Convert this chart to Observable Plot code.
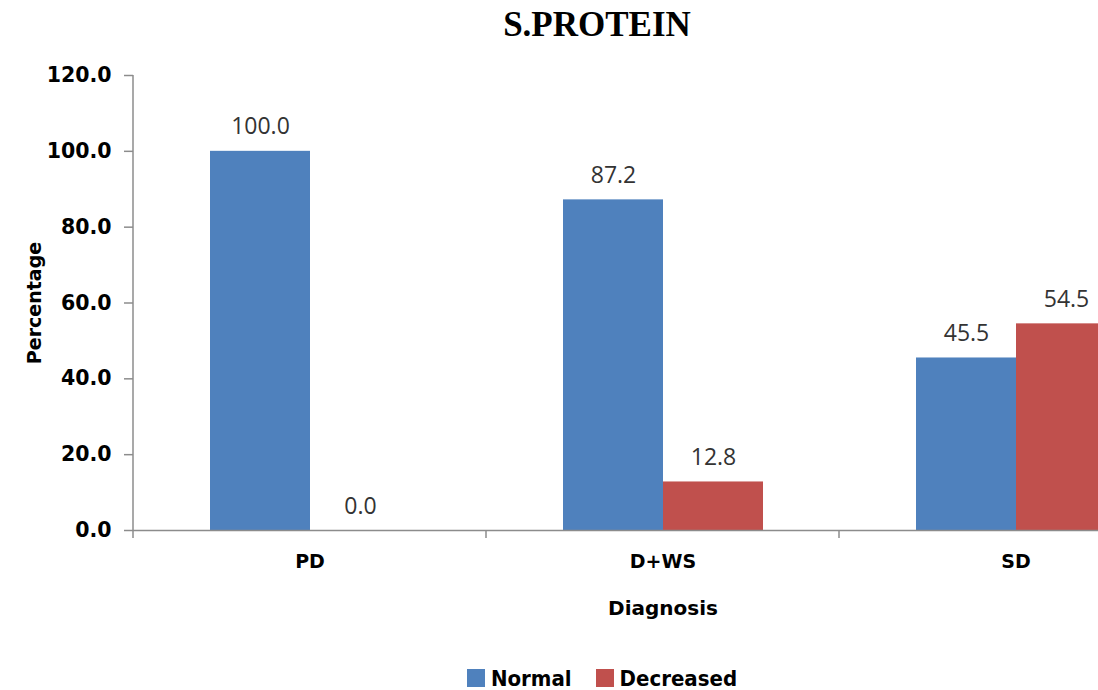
<!DOCTYPE html>
<html>
<head>
<meta charset="utf-8">
<script src="https://cdn.jsdelivr.net/npm/d3@7"></script>
<script src="https://cdn.jsdelivr.net/npm/@observablehq/plot@0.6"></script>
<style>
  html, body { margin: 0; padding: 0; background: #fff; overflow: hidden; }
  #wrap { width: 1098px; height: 690px; position: relative; }
  #title {
    height: 50px; line-height: 50px; text-align: center;
    font-family: "Liberation Serif", serif; font-weight: bold; font-size: 35px;
    color: #000; padding-left: 96px; box-sizing: border-box;
  }
  #legend {
    display: flex; justify-content: center; align-items: center;
    height: 50px; padding-top: 26px; padding-left: 106px; box-sizing: border-box;
    font-family: "DejaVu Sans Condensed", "DejaVu Sans", sans-serif; font-weight: bold; font-size: 22px;
  }
  .item { display: flex; align-items: center; margin: 0 12px; }
  .sw { width: 18px; height: 18px; margin-right: 6px; }
</style>
</head>
<body>
<div id="wrap">
  <div id="title">S.PROTEIN</div>
  <div id="chart"></div>
  <div id="legend"></div>
</div>
<script>
// Serum protein status by diagnosis (percent of patients)
const categories = ["PD", "D+WS", "SD"];
const series = ["Normal", "Decreased"];
const normal = [100.0, 87.2, 45.5];
const decreased = [0.0, 12.8, 54.5];
const yTicks = [0, 20, 40, 60, 80, 100, 120];
const colors = ["#4F81BD", "#C0504D"];

const rows = categories.flatMap((c, i) => [
  {category: c, series: "Normal", value: normal[i]},
  {category: c, series: "Decreased", value: decreased[i]}
]);

const axisFont = "DejaVu Sans, sans-serif";
const chart = Plot.plot({
  width: 1098,
  height: 590,
  marginTop: 25,
  marginBottom: 110,
  marginLeft: 133,
  marginRight: 0,
  style: {background: "transparent", overflow: "visible"},
  fx: {domain: categories, range: [133, 1192], padding: 0},
  x: {domain: series, paddingInner: 0, paddingOuter: 0.76},
  y: {domain: [0, 120]},
  color: {domain: series, range: colors},
  marks: [
    Plot.barY(rows, {fx: "category", x: "series", y: "value", fill: "series"}),
    Plot.ruleY([0], {stroke: "#8c8c8c", strokeWidth: 1.5}),
    Plot.text(rows, {
      fx: "category", x: "series", y: "value",
      text: d => d.value.toFixed(1),
      lineAnchor: "bottom", dy: -17,
      fontFamily: "Open Sans, sans-serif", fontSize: 23, fill: "#333"
    }),
    Plot.axisY({
      ticks: yTicks, tickFormat: d => d.toFixed(1),
      tickSize: 9, tickPadding: 13, stroke: "#8c8c8c", strokeWidth: 1.5,
      fontFamily: axisFont, fontWeight: "bold", fontSize: 20.5, fill: "#000",
      label: "Percentage", labelArrow: "none", labelAnchor: "center", labelOffset: 106
    }),
    Plot.axisX({ticks: [], label: null}),
    Plot.axisFx({
      anchor: "bottom",
      tickSize: 0, tickPadding: 24,
      fontFamily: axisFont, fontWeight: "bold", fontSize: 19, fill: "#000",
      label: "Diagnosis", labelArrow: "none", labelAnchor: "center", labelOffset: 84
    })
  ]
});
document.getElementById("chart").appendChild(chart);

// left axis line and category boundary ticks, placed with the plot's own scales
const fx = chart.scale("fx");
const y = chart.scale("y");
const svg = d3.select(chart);
const g = svg.append("g").attr("stroke", "#8c8c8c").attr("stroke-width", 1.5);
g.append("line")
  .attr("x1", fx.apply(categories[0])).attr("x2", fx.apply(categories[0]))
  .attr("y1", y.apply(120)).attr("y2", y.apply(0));
categories.forEach(c => {
  const xb = fx.apply(c);
  g.append("line").attr("x1", xb).attr("x2", xb)
    .attr("y1", y.apply(0)).attr("y2", y.apply(0) + 8);
});
// axis titles: bold, without direction arrows
svg.selectAll("[aria-label='y-axis label'] text").attr("font-size", 19);
svg.selectAll("[aria-label='fx-axis label'] text").attr("font-size", 20);
svg.selectAll("[aria-label='y-axis label'] text, [aria-label='fx-axis label'] text")
  .each(function () { this.textContent = this.textContent.replace(/\s*[↑→↓←]\s*/g, ""); })
  .attr("font-family", "DejaVu Sans, sans-serif").attr("font-weight", "bold")
  .attr("fill", "#000");

// legend
const legend = d3.select("#legend");
series.forEach((s, i) => {
  const it = legend.append("div").attr("class", "item");
  it.append("div").attr("class", "sw").style("background", colors[i]);
  it.append("span").text(s);
});
</script>
</body>
</html>
